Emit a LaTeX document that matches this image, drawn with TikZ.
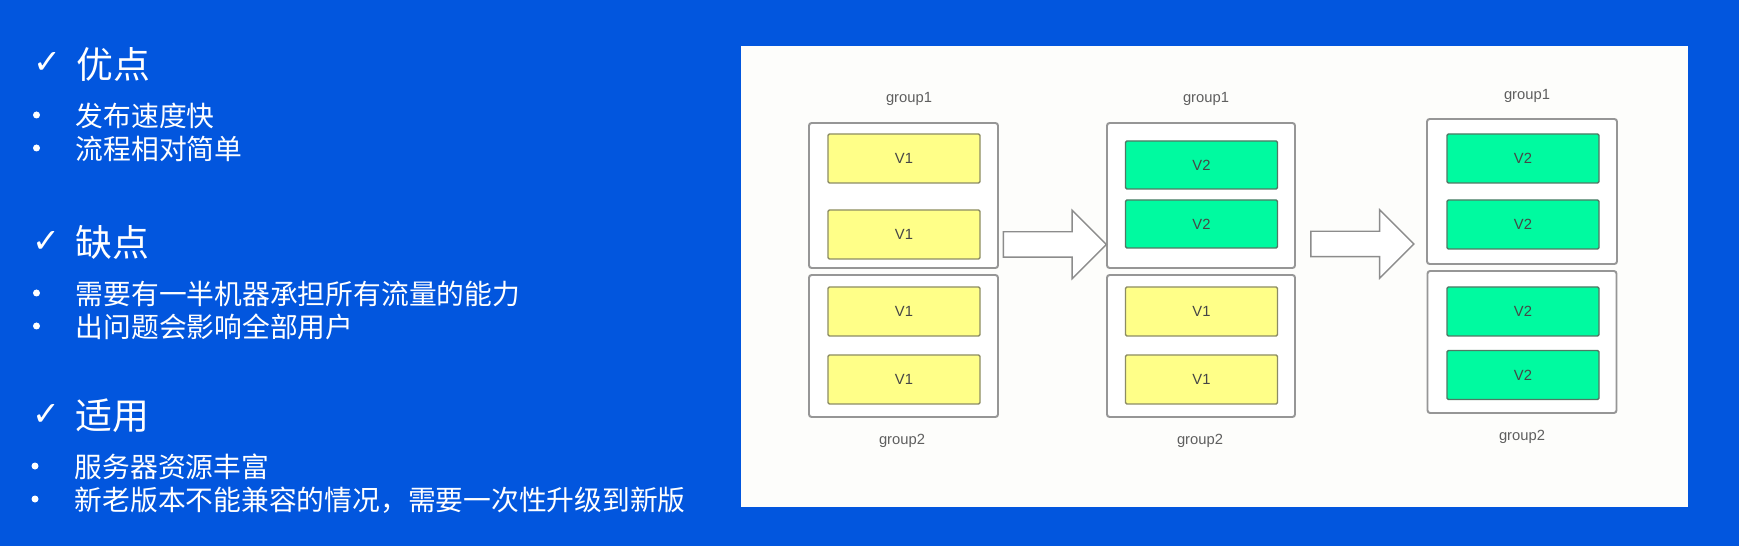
\documentclass[tikz,border=0pt]{standalone}
\usepackage{fontspec}
\setmainfont{Noto Sans CJK SC}
\newfontfamily\grpfont{Liberation Sans}
\newfontfamily\checkfont{DejaVu Sans}
\usetikzlibrary{shapes.arrows,calc}

\definecolor{slideblue}{RGB}{2,86,222}
\definecolor{panelwhite}{RGB}{253,253,251}
\definecolor{boxgray}{RGB}{150,150,150}
\definecolor{labelgray}{RGB}{95,95,95}
\definecolor{vtext}{RGB}{70,70,70}
\definecolor{vyellow}{RGB}{255,255,136}
\definecolor{yellowedge}{RGB}{140,140,100}
\definecolor{vgreen}{RGB}{0,250,160}
\definecolor{greenedge}{RGB}{80,120,100}
\definecolor{arrowgray}{RGB}{140,140,140}

\tikzset{
    heading/.style={anchor=west, inner sep=0pt, text=white, font=\fontsize{21}{25}\selectfont},
    checkmark/.style={anchor=west, inner sep=0pt, text=white, font=\checkfont\fontsize{19}{23}\selectfont},
    item/.style={anchor=west, inner sep=0pt, text=white, font=\fontsize{15.8}{19}\selectfont},
    dot/.style={circle, fill=white, inner sep=0pt, minimum size=1.4mm},
    grpbox/.style={draw=boxgray, rounded corners=1.5pt, fill=white, line width=1.1pt,
        minimum width=37.8mm, minimum height=29mm},
    grplabel/.style={text=labelgray, font=\grpfont\fontsize{8.4}{10}\selectfont},
    vbox/.style={rounded corners=0.8pt, line width=0.8pt, minimum width=30.4mm,
        minimum height=9.8mm, text=vtext, font=\grpfont\fontsize{8.4}{10}\selectfont},
    vone/.style={vbox, draw=yellowedge, fill=vyellow},
    vtwo/.style={vbox, draw=greenedge, fill=vgreen},
    bigarrow/.style={single arrow, draw=arrowgray, fill=white, line width=0.8pt,
        inner xsep=0pt, inner ysep=2.4mm, single arrow head extend=4.3mm,
        single arrow tip angle=90, minimum height=20.6mm}
}

\begin{document}
\begin{tikzpicture}
    % slide background and white panel
    \fill[slideblue] (0,0) rectangle (34.78,-10.92);
    \fill[panelwhite] (14.82,-0.92) rectangle (33.76,-10.14);
    % left side text
    \node[checkmark] (chk1) at (0.66,-1.25) {✓};
    \node[heading] (pros) at (1.52,-1.28) {优点};
    \node[dot] (d1) at (0.73,-2.30) {};
    \node[item] (pro1) at (1.51,-2.32) {发布速度快};
    \node[dot] (d2) at (0.73,-2.96) {};
    \node[item] (pro2) at (1.51,-2.98) {流程相对简单};
    \node[checkmark] (chk2) at (0.64,-4.83) {✓};
    \node[heading] (cons) at (1.50,-4.85) {缺点};
    \node[dot] (d3) at (0.73,-5.86) {};
    \node[item] (con1) at (1.51,-5.88) {需要有一半机器承担所有流量的能力};
    \node[dot] (d4) at (0.73,-6.52) {};
    \node[item] (con2) at (1.51,-6.54) {出问题会影响全部用户};
    \node[checkmark] (chk3) at (0.64,-8.29) {✓};
    \node[heading] (uses) at (1.50,-8.31) {适用};
    \node[dot] (d5) at (0.70,-9.32) {};
    \node[item] (use1) at (1.49,-9.34) {服务器资源丰富};
    \node[dot] (d6) at (0.70,-9.98) {};
    \node[item] (use2) at (1.49,-10.00) {新老版本不能兼容的情况，需要一次性升级到新版};
    % stage 1: all V1
    \node[grpbox] (g1a) at (18.07,-3.91) {};
    \node[grpbox, minimum height=28.4mm] (g2a) at (18.07,-6.92) {};
    \node[vone] (a1) at (18.08,-3.17) {V1};
    \node[vone] (a2) at (18.08,-4.69) {V1};
    \node[vone] (a3) at (18.08,-6.23) {V1};
    \node[vone] (a4) at (18.08,-7.59) {V1};
    \node[grplabel] (la1) at (18.18,-1.98) {group1};
    \node[grplabel] (la2) at (18.04,-8.82) {group2};
    % stage 2: group1 upgraded
    \node[grpbox, minimum width=37.6mm] (g1b) at (24.02,-3.91) {};
    \node[grpbox, minimum width=37.6mm, minimum height=28.4mm] (g2b) at (24.02,-6.92) {};
    \node[vtwo, minimum height=9.6mm] (b1) at (24.03,-3.30) {V2};
    \node[vtwo, minimum height=9.6mm] (b2) at (24.03,-4.48) {V2};
    \node[vone] (b3) at (24.03,-6.23) {V1};
    \node[vone] (b4) at (24.03,-7.59) {V1};
    \node[grplabel] (lb1) at (24.12,-1.98) {group1};
    \node[grplabel] (lb2) at (24.00,-8.82) {group2};
    % stage 3: all V2
    \node[grpbox, minimum width=38mm] (g1c) at (30.44,-3.83) {};
    \node[grpbox, minimum height=28.4mm] (g2c) at (30.44,-6.84) {};
    \node[vtwo] (c1) at (30.46,-3.17) {V2};
    \node[vtwo] (c2) at (30.46,-4.49) {V2};
    \node[vtwo] (c3) at (30.46,-6.23) {V2};
    \node[vtwo] (c4) at (30.46,-7.50) {V2};
    \node[grplabel] (lc1) at (30.54,-1.92) {group1};
    \node[grplabel] (lc2) at (30.44,-8.74) {group2};
    % transitions between stages
    \node[bigarrow] (arr1) at ($(g1a.east)!0.5!(g1b.west)$) [yshift=-9.8mm, xshift=-0.8mm] {};
    \node[bigarrow] (arr2) at ($(g1b.east)!0.5!(g1c.west)$) [yshift=-10.1mm, xshift=-1mm] {};
\end{tikzpicture}
\end{document}
